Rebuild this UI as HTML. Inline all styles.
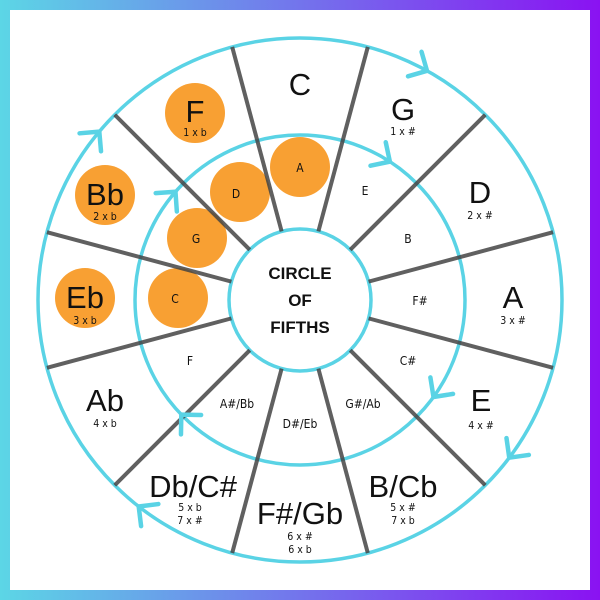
<!DOCTYPE html>
<html><head><meta charset="utf-8"><style>
html,body{margin:0;padding:0;background:#fff}
svg{display:block}
.big{font-family:"Liberation Sans",sans-serif;font-size:31px;fill:#111;text-anchor:middle}
.sub{font-family:"DejaVu Sans Condensed","Liberation Sans",sans-serif;font-size:10.5px;fill:#111;text-anchor:middle}
.in{font-family:"DejaVu Sans Condensed","Liberation Sans",sans-serif;font-size:12px;fill:#111;text-anchor:middle}
.ctr{font-family:"Liberation Sans",sans-serif;font-weight:bold;font-size:17px;fill:#111;text-anchor:middle}
</style></head><body>
<svg width="600" height="600" viewBox="0 0 600 600" xmlns="http://www.w3.org/2000/svg">
<defs><linearGradient id="g" x1="0" y1="0" x2="1" y2="0"><stop offset="0" stop-color="#5cd6e6"/><stop offset="1" stop-color="#8a12f2"/></linearGradient></defs>
<rect x="0" y="0" width="600" height="600" fill="url(#g)"/>
<rect x="10" y="10" width="580" height="580" fill="#fff"/>
<g fill="#f8a033">
<circle cx="195" cy="113" r="30"/><circle cx="105" cy="195" r="30"/><circle cx="85" cy="298" r="30"/>
<circle cx="300" cy="167" r="30"/><circle cx="240" cy="192" r="30"/><circle cx="197" cy="238" r="30"/><circle cx="178" cy="298" r="30"/>
</g>
<g fill="none" stroke="#5ad3e5" stroke-width="3.5">
<circle cx="300" cy="300" r="262"/><circle cx="300" cy="300" r="165"/><circle cx="300" cy="300" r="71"/>
</g>
<g stroke="#444" stroke-width="4" opacity="0.85">
<line x1="300" y1="229" x2="300" y2="38" transform="rotate(-15 300 300)"/>
<line x1="300" y1="229" x2="300" y2="38" transform="rotate(15 300 300)"/>
<line x1="300" y1="229" x2="300" y2="38" transform="rotate(45 300 300)"/>
<line x1="300" y1="229" x2="300" y2="38" transform="rotate(75 300 300)"/>
<line x1="300" y1="229" x2="300" y2="38" transform="rotate(105 300 300)"/>
<line x1="300" y1="229" x2="300" y2="38" transform="rotate(135 300 300)"/>
<line x1="300" y1="229" x2="300" y2="38" transform="rotate(165 300 300)"/>
<line x1="300" y1="229" x2="300" y2="38" transform="rotate(195 300 300)"/>
<line x1="300" y1="229" x2="300" y2="38" transform="rotate(225 300 300)"/>
<line x1="300" y1="229" x2="300" y2="38" transform="rotate(255 300 300)"/>
<line x1="300" y1="229" x2="300" y2="38" transform="rotate(285 300 300)"/>
<line x1="300" y1="229" x2="300" y2="38" transform="rotate(315 300 300)"/>
</g>
<g fill="none" stroke="#5ad3e5" stroke-width="4.5" stroke-linecap="round" stroke-linejoin="round">
<polyline points="286,24 300,38 286,52" transform="rotate(29 300 300)"/>
<polyline points="286,24 300,38 286,52" transform="rotate(127 300 300)"/>
<polyline points="286,24 300,38 286,52" transform="rotate(218 300 300)"/>
<polyline points="286,24 300,38 286,52" transform="rotate(310 300 300)"/>
<polyline points="286,121 300,135 286,149" transform="rotate(33 300 300)"/>
<polyline points="286,121 300,135 286,149" transform="rotate(126 300 300)"/>
<polyline points="286,121 300,135 286,149" transform="rotate(226 300 300)"/>
<polyline points="286,121 300,135 286,149" transform="rotate(311 300 300)"/>
</g>
<text class="big" x="300" y="95">C</text>
<text class="big" x="403" y="120">G</text><text class="sub" x="403" y="135">1 x #</text>
<text class="big" x="480" y="203">D</text><text class="sub" x="480" y="219">2 x #</text>
<text class="big" x="513" y="308">A</text><text class="sub" x="513" y="324">3 x #</text>
<text class="big" x="481" y="411">E</text><text class="sub" x="481" y="429">4 x #</text>
<text class="big" x="403" y="497">B/Cb</text><text class="sub" x="403" y="511">5 x #</text><text class="sub" x="403" y="524">7 x b</text>
<text class="big" x="300" y="524">F#/Gb</text><text class="sub" x="300" y="540">6 x #</text><text class="sub" x="300" y="553">6 x b</text>
<text class="big" x="193" y="497">Db/C#</text><text class="sub" x="190" y="511">5 x b</text><text class="sub" x="190" y="524">7 x #</text>
<text class="big" x="105" y="411">Ab</text><text class="sub" x="105" y="427">4 x b</text>
<text class="big" x="85" y="308">Eb</text><text class="sub" x="85" y="324">3 x b</text>
<text class="big" x="105" y="205">Bb</text><text class="sub" x="105" y="220">2 x b</text>
<text class="big" x="195" y="122">F</text><text class="sub" x="195" y="136">1 x b</text>
<text class="in" x="300" y="172">A</text>
<text class="in" x="365" y="195">E</text>
<text class="in" x="408" y="243">B</text>
<text class="in" x="420" y="305">F#</text>
<text class="in" x="408" y="365">C#</text>
<text class="in" x="363" y="408">G#/Ab</text>
<text class="in" x="300" y="428">D#/Eb</text>
<text class="in" x="237" y="408">A#/Bb</text>
<text class="in" x="190" y="365">F</text>
<text class="in" x="175" y="303">C</text>
<text class="in" x="196" y="243">G</text>
<text class="in" x="236" y="198">D</text>
<text class="ctr" x="300" y="279">CIRCLE</text>
<text class="ctr" x="300" y="306">OF</text>
<text class="ctr" x="300" y="333">FIFTHS</text>
</svg>
</body></html>
